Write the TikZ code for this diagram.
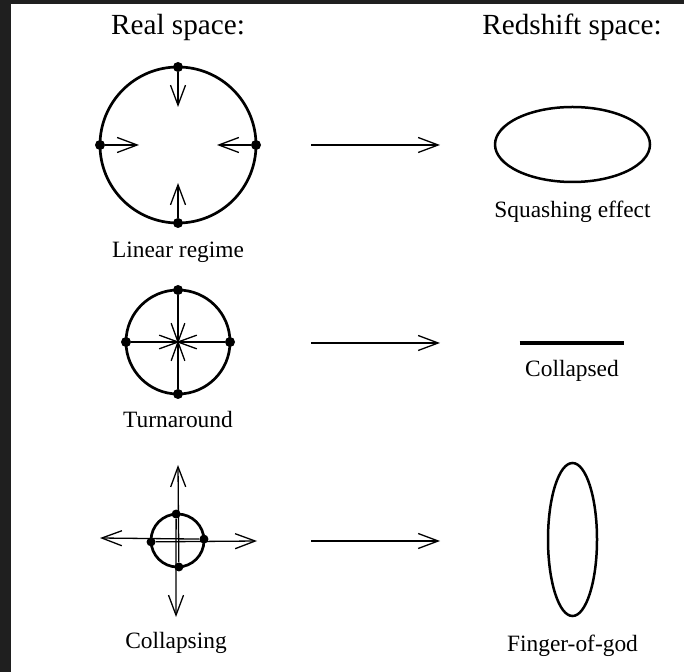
\documentclass[tikz,border=0pt]{standalone}
\usepackage{fontspec}
\setmainfont{Liberation Serif}
\usetikzlibrary{arrows.meta,positioning,shapes.geometric}
\tikzset{%
  shell/.style={draw,circle,line width=1.35pt,inner sep=0pt,outer sep=0pt},
  zspace/.style={draw,ellipse,line width=1.25pt,inner sep=0pt,outer sep=0pt},
  arrow/.style={-{Straight Barb[length=10pt,width=7.5pt]}, line width=0.65pt}%
}

\begin{document}
\begin{tikzpicture}[
    x=0.5pt, y=-0.5pt,
    font=\fontsize{11.7}{14}\selectfont,
    title/.style={anchor=base, font=\fontsize{14.6}{17}\selectfont},
    caption/.style={anchor=base},
    galaxy/.style={circle, fill, inner sep=0pt, minimum size=5pt},
    rod/.style={line width=0.65pt}
]
\useasboundingbox (0,0) rectangle (684,672);
\fill[black!88] (0,0) rectangle (11,672);
\fill[black!88] (0,0) rectangle (684,4);

\node[title] (real) at (178,35) {Real space:};
\node[title] (red) at (572,35) {Redshift space:};

% linear regime
\node[shell, minimum size=78pt] (lin) at (178,145) {};
\node[below=17.5pt of lin, caption] (linlbl) {Linear regime};
\foreach \a/\n in {north/n, south/s, east/e, west/w}
  \node[galaxy] (lin-\n) at (lin.\a) {};
\coordinate (lin-tn) at (178,107);
\coordinate (lin-ts) at (178,183);
\coordinate (lin-tw) at (139,145);
\coordinate (lin-te) at (217,145);
\draw[arrow] (lin-n) -- (lin-tn);
\draw[arrow] (lin-s) -- (lin-ts);
\draw[arrow] (lin-w) -- (lin-tw);
\draw[arrow] (lin-e) -- (lin-te);

\node[zspace, minimum width=77.5pt, minimum height=37.5pt] (squash) at (572.5,144.5) {};
\node[below=18pt of squash, caption] (squashlbl) {Squashing effect};

% turnaround
\node[shell, minimum size=52pt] (turn) at (178,342) {};
\node[below=17pt of turn, caption] (turnlbl) {Turnaround};
\foreach \a/\n in {north/n, south/s, east/e, west/w}
  \node[galaxy] (turn-\n) at (turn.\a) {};
\draw[rod] (turn-w) -- (turn-e);
\draw[rod] (turn-n) -- (turn-s);
\foreach \ang in {20,70,110,160}
  \draw[rod] ([shift={(\ang:10pt)}]turn.center) -- ([shift={(\ang+180:10pt)}]turn.center);

\node[inner sep=0pt, minimum width=52pt, minimum height=0pt] (flat) at (572,343) {};
\draw[line width=1.6pt] (flat.west) -- (flat.east);
\node[below=16.5pt of flat, caption] (flatlbl) {Collapsed};

% collapsing
\node[shell, minimum size=26.5pt] (coll) at (177.5,540.5) {};
\foreach \a/\n in {93/n, 273/s, 3/e, 183/w}
  \node[galaxy, minimum size=4.5pt] (coll-\n) at (coll.\a) {};
\coordinate (coll-tn) at (178,465);
\coordinate (coll-ts) at (176,617);
\coordinate (coll-tw) at (100,538);
\coordinate (coll-te) at (257,541);
\draw[arrow] (coll-s) -- (coll-tn);
\draw[arrow] (coll-n) -- (coll-ts);
\draw[arrow] (coll-w) -- (coll-te);
\draw[arrow] (coll-e) -- (coll-tw);
\node[below=15.5pt of coll-ts, caption] (colllbl) {Collapsing};

\node[zspace, minimum width=24.5pt, minimum height=76.5pt] (fog) at (572.5,539.5) {};
\node[below=17.5pt of fog, caption] (foglbl) {Finger-of-god};

% real -> redshift
\foreach \r/\y in {1/145, 2/343, 3/541} {
  \coordinate (go\r) at (311,\y);
  \coordinate (to\r) at (440,\y);
  \draw[arrow] (go\r) -- (to\r);
}

\end{tikzpicture}
\end{document}
